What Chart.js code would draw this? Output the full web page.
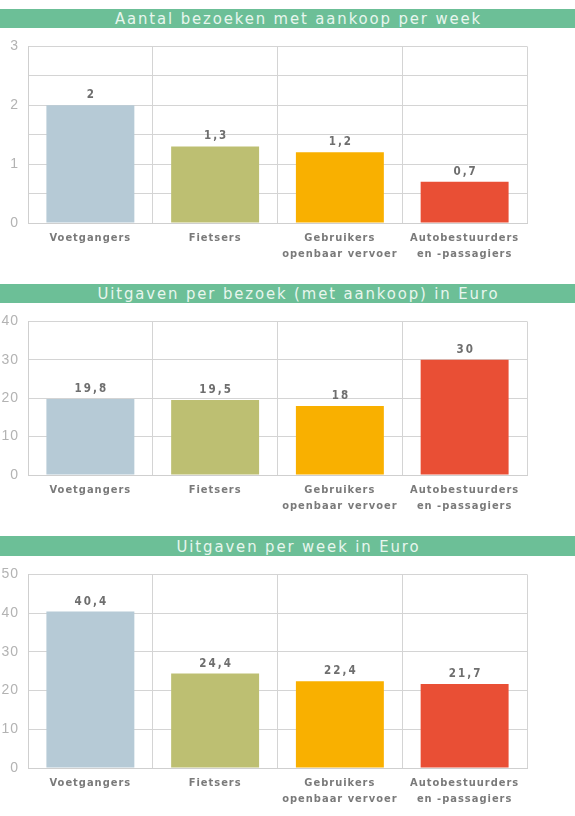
<!DOCTYPE html>
<html>
<head>
<meta charset="utf-8">
<script src="https://cdn.jsdelivr.net/npm/chart.js@4.4.1/dist/chart.umd.min.js"></script>
<style>
  html, body { margin: 0; padding: 0; background: #ffffff; }
  body { width: 575px; height: 816px; position: relative; overflow: hidden; }
  .bar { position: absolute; left: 0; width: 575px; box-sizing: border-box; padding-left: 22px;
         background: #6cbf97; color: #e8f6ee;
         font-family: "DejaVu Sans Condensed", "DejaVu Sans", sans-serif; font-size: 16.5px;
         letter-spacing: 1.9px; text-align: center; white-space: nowrap; }
  canvas { position: absolute; left: 0; }
</style>
</head>
<body>
<div class="bar" id="t1" style="top:9px;height:19px;line-height:20px;"></div>
<canvas id="c1" width="575" height="241" style="top:29px;width:575px;height:241px;"></canvas>
<div class="bar" id="t2" style="top:284px;height:19px;line-height:20px;"></div>
<canvas id="c2" width="575" height="226" style="top:304px;width:575px;height:226px;"></canvas>
<div class="bar" id="t3" style="top:536px;height:20px;line-height:21px;"></div>
<canvas id="c3" width="575" height="259" style="top:557px;width:575px;height:259px;"></canvas>
<script>
// ---- data ----
const categories = ["Voetgangers", "Fietsers", ["Gebruikers", "openbaar vervoer"], ["Autobestuurders", "en -passagiers"]];
const titles = ["Aantal bezoeken met aankoop per week", "Uitgaven per bezoek (met aankoop) in Euro", "Uitgaven per week in Euro"];
const visitsPerWeek = [2, 1.3, 1.2, 0.7];
const spendPerVisit = [19.8, 19.5, 18, 30];
const spendPerWeek = [40.4, 24.4, 22.4, 21.7];
const yMax = [3, 40, 50];
const yStep = [0.5, 10, 10];
const barColors = ["#b6cad6", "#bdbf72", "#f9b000", "#e94f35"];

document.getElementById('t1').textContent = titles[0];
document.getElementById('t2').textContent = titles[1];
document.getElementById('t3').textContent = titles[2];

const spacing = {
  id: 'spacing',
  beforeDraw(chart) { try { chart.ctx.letterSpacing = '1px'; } catch (e) {} },
  beforeDatasetsDraw(chart) { try { chart.ctx.letterSpacing = '0px'; } catch (e) {} }
};

const valueLabels = {
  id: 'valueLabels',
  afterDatasetsDraw(chart) {
    const ctx = chart.ctx;
    const meta = chart.getDatasetMeta(0);
    const data = chart.data.datasets[0].data;
    ctx.save();
    ctx.font = 'bold 11.5px "DejaVu Sans Condensed", "DejaVu Sans", sans-serif';
    ctx.fillStyle = '#6e6e6e';
    ctx.textAlign = 'center';
    ctx.textBaseline = 'middle';
    try { ctx.letterSpacing = '2px'; } catch (e) {}
    meta.data.forEach((bar, i) => {
      const txt = String(data[i]).replace('.', ',');
      ctx.fillText(txt, bar.x + 1, bar.y - 10);
    });
    ctx.restore();
  }
};

function makeChart(id, values, max, step, padTop, xHeight) {
  return new Chart(document.getElementById(id), {
    type: 'bar',
    data: {
      labels: categories,
      datasets: [{
        data: values,
        backgroundColor: barColors,
        borderWidth: 0,
        barPercentage: 0.705,
        categoryPercentage: 1
      }]
    },
    options: {
      responsive: false,
      maintainAspectRatio: false,
      animation: false,
      devicePixelRatio: window.devicePixelRatio || 1,
      layout: { padding: { top: padTop, right: 48, left: 0, bottom: 0 } },
      plugins: { legend: { display: false }, tooltip: { enabled: false }, title: { display: false } },
      scales: {
        x: {
          grid: { color: '#d4d4d4', lineWidth: 1, drawTicks: false, offset: true },
          border: { color: '#cfcfcf' },
          ticks: {
            color: '#7a7a7a',
            padding: 7,
            maxRotation: 0,
            autoSkip: false,
            font: { family: '"DejaVu Sans Condensed", "DejaVu Sans", sans-serif', size: 11, weight: 'bold', lineHeight: 1.45 }
          },
          afterFit(scale) { scale.height = xHeight; }
        },
        y: {
          min: 0, max: max,
          grid: { color: '#d4d4d4', lineWidth: 1, drawTicks: false },
          border: { color: '#cfcfcf' },
          ticks: {
            stepSize: step,
            color: '#b3b3b3',
            padding: 9,
            font: { family: '"Liberation Sans", Arial, sans-serif', size: 14 },
            callback(v) { return Number.isInteger(v) ? String(v) : ''; }
          },
          afterFit(scale) { scale.width = 28; }
        }
      }
    },
    plugins: [spacing, valueLabels]
  });
}

makeChart('c1', visitsPerWeek, yMax[0], yStep[0], 17, 47);
makeChart('c2', spendPerVisit, yMax[1], yStep[1], 16, 55);
makeChart('c3', spendPerWeek, yMax[2], yStep[2], 16, 48);
</script>
</body>
</html>
